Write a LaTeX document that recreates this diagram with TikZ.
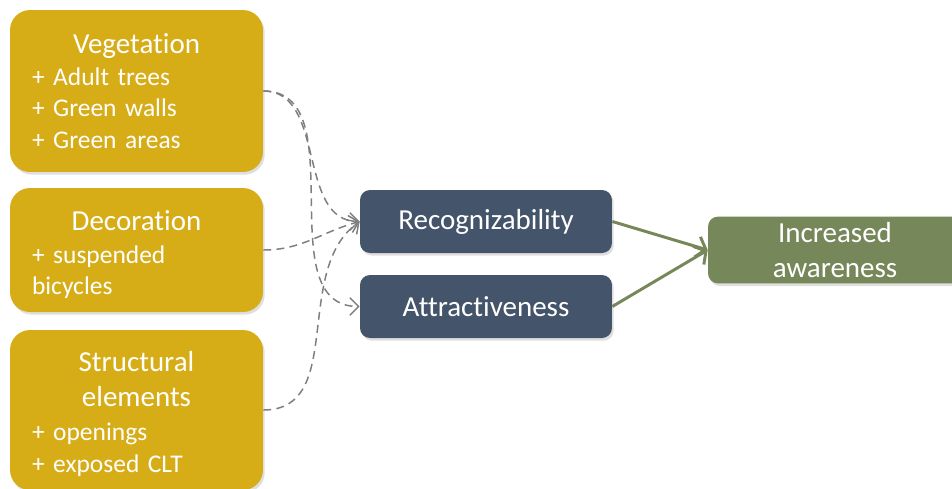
\documentclass[tikz,border=0pt]{standalone}
\usepackage{fontspec}
\setmainfont{Carlito}[Ligatures=NoCommon,RawFeature={-liga;-clig;-calt;-dlig}]
\usetikzlibrary{positioning,arrows.meta,shadows}
\definecolor{gold}{HTML}{D6AC17}
\definecolor{slate}{HTML}{44546A}
\definecolor{olive}{HTML}{76875A}
\definecolor{dashgray}{HTML}{7F7F7F}
\newcommand{\hd}[1]{\hfill{\fontsize{16.5}{19.8}\selectfont #1}\hfill\null}
\begin{document}
\begin{tikzpicture}[x=0.02cm ,y=-0.02cm ,
factor/.style ={ rounded corners =0.4cm ,fill =gold ,text =white ,
  minimum width =5.06cm ,text width =4.18cm ,align =left ,
  inner xsep =0.44cm ,inner ysep =2pt ,
  font =\fontsize{14.5}{18}\selectfont ,
  drop shadow ={opacity =0.25 ,shadow xshift =1pt ,shadow yshift =-1.5pt}},
effect/.style ={ rounded corners =0.2cm ,fill =slate ,text =white ,
  minimum width =5.04cm ,minimum height =1.26cm ,
  font =\fontsize{16.5}{19.8}\selectfont ,
  drop shadow ={opacity =0.25 ,shadow xshift =1pt ,shadow yshift =-1.5pt}},
outcome/.style ={ rounded corners =0.2cm ,fill =olive ,text =white ,
  minimum width =5.08cm ,minimum height =1.28cm ,align =center ,
  font =\fontsize{16.5}{19.8}\selectfont ,
  drop shadow ={opacity =0.25 ,shadow xshift =1pt ,shadow yshift =-1.5pt}},
link/.style ={ draw =dashgray ,line width =0.85pt ,dash pattern =on 4.5pt off 3pt ,
  -{Straight Barb[length =5pt ,width =10pt]}},
push/.style ={ draw =olive ,line width =1.7pt ,
  -{Straight Barb[length =5pt ,width =12pt]}}]
\clip (0,0) rectangle (952,488);
\useasboundingbox (0,0) rectangle (952,488);
\node[factor ,minimum height =3.24cm] (veg) at (136.5,91)
  {\hd{Vegetation}\\+ Adult trees\\+ Green walls\\+ Green areas};
\node[factor ,minimum height =2.48cm] (deco) at (136.5,250)
  {\rule{0pt}{17pt}\hd{Decoration}\\[0.5pt]+ suspended\\bicycles};
\node[factor ,minimum height =3.2cm] (struct) at (136.5,410)
  {\rule{0pt}{16pt}\hd{Structural}\\[1.8pt]\hd{elements}\\[1.8pt]+ openings\\+ exposed CLT};
\node[effect] (recog) at (486,221.5) {Recognizability};
\node[effect] (attract) at (486,306.5) {Attractiveness};
\node[outcome] (aware) at (835,250) {Increased\\awareness};
\draw[link] (veg.east) to[out =0 ,in =180] (recog.west);
\draw[link] (veg.east) to[out =0 ,in =180] (attract.west);
\draw[link] (deco.east) to[out =0 ,in =195] (recog.west);
\draw[link] (struct.east) to[out =0 ,in =215] (recog.west);
\draw[push] (recog.east) -- (aware.west);
\draw[push] (attract.east) -- (aware.west);
\end{tikzpicture}
\end{document}
